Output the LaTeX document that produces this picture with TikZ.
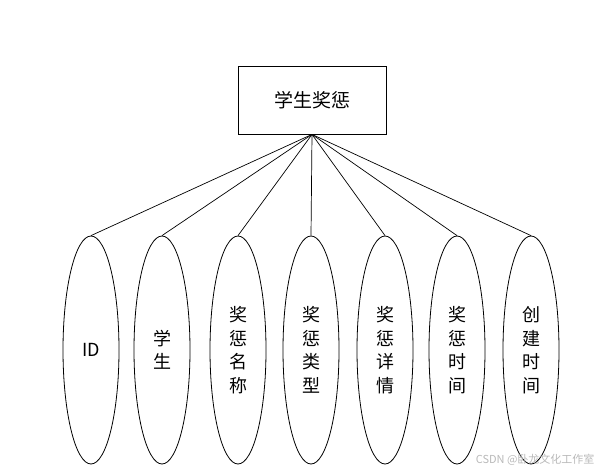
\documentclass[tikz,border=0pt]{standalone}
\usepackage{fontspec}
\setmainfont{Noto Sans CJK SC}
\newfontfamily\cjk{Noto Sans CJK SC}
\usetikzlibrary{shapes.geometric}

\begin{document}
\begin{tikzpicture}[x=1pt, y=-1pt,
      entity/.style={draw, line width=0.8pt, minimum width=148pt, minimum height=68pt, inner sep=0pt, font=\cjk\fontsize{19}{22}\selectfont},
      attr/.style={draw, ellipse, line width=0.8pt, minimum width=56pt, minimum height=228pt, inner sep=0pt, align=center, font=\cjk\fontsize{18}{23.5}\selectfont},
      link/.style={line width=0.7pt}
    ]
      \useasboundingbox (0,0) rectangle (601,471);

      % Entity
      \node[entity] (reward) at (312,100) {学生奖惩};

      % Attributes
      \node[attr] (id) at (91,350) {ID};
      \node[attr] (stu) at (162,350) {学\\生};
      \node[attr] (rname) at (238,350) {奖\\惩\\名\\称};
      \node[attr] (rtype) at (311,350) {奖\\惩\\类\\型};
      \node[attr] (rinfo) at (385,350) {奖\\惩\\详\\情};
      \node[attr] (rtime) at (457,350) {奖\\惩\\时\\间};
      \node[attr] (ctime) at (531,350) {创\\建\\时\\间};

      % Links
      \draw[link] (reward.south) -- (id.north);
      \draw[link] (reward.south) -- (stu.north);
      \draw[link] (reward.south) -- (rname.north);
      \draw[link] (reward.south) -- (rtype.north);
      \draw[link] (reward.south) -- (rinfo.north);
      \draw[link] (reward.south) -- (rtime.north);
      \draw[link] (reward.south) -- (ctime.north);

      % Watermark
      \node[anchor=east, text=gray!55, font=\cjk\fontsize{11}{13}\selectfont] (mark) at (598,460) {CSDN @卧龙文化工作室};
    \end{tikzpicture}
\end{document}
